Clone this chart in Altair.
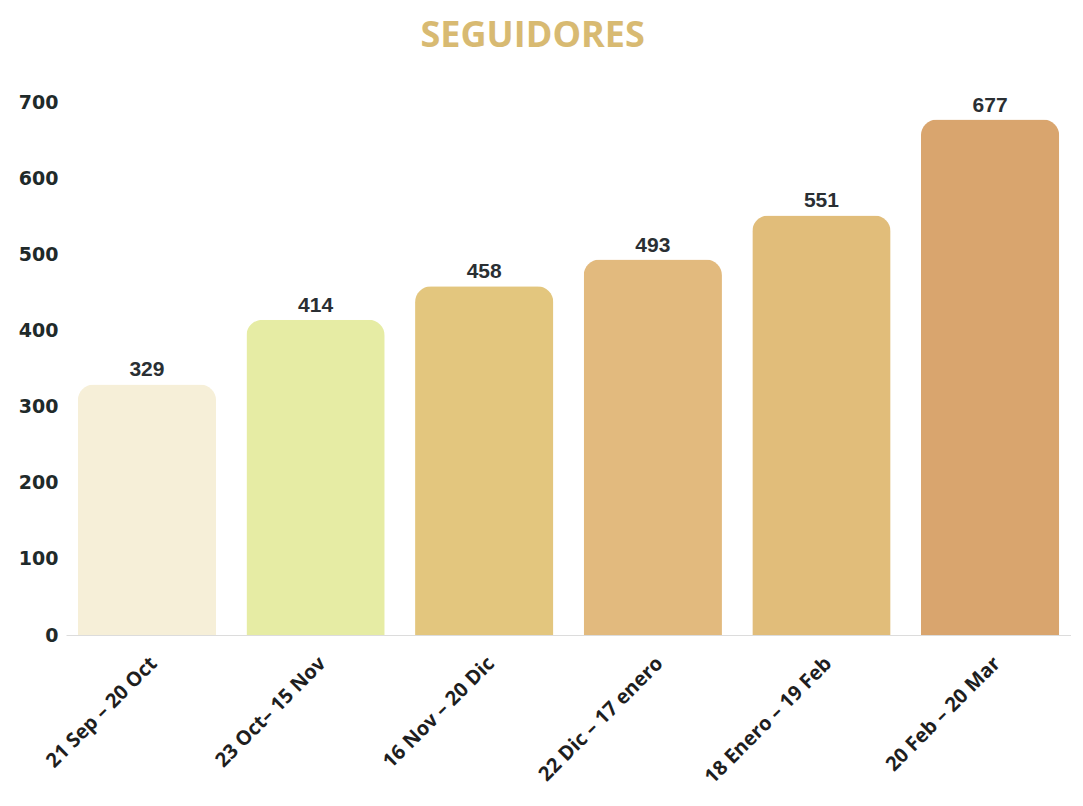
import altair as alt
import pandas as pd

periods = ["21 Sep – 20 Oct", "23 Oct– 15 Nov", "16 Nov – 20 Dic",
           "22 Dic – 17 enero", "18 Enero – 19 Feb", "20 Feb – 20 Mar"]
followers = [329, 414, 458, 493, 551, 677]
bar_colors = ["#f6efd8", "#e6eca4", "#e3c67e", "#e2ba7e", "#e1bd7a", "#d9a56e"]

df = pd.DataFrame({"periodo": periods, "seguidores": followers, "color": bar_colors})

x_enc = alt.X("periodo:N", sort=periods, title=None,
              scale=alt.Scale(paddingInner=0.18, paddingOuter=0.07),
              axis=alt.Axis(labelAngle=315, labelFont="Open Sans", labelFontWeight="bold",
                            labelFontSize=20, labelColor="#1e1e1e", labelPadding=18,
                            ticks=False, domain=True, domainColor="#dcdcdc",
                            labelOverlap=False, labelLimit=400))
y_enc = alt.Y("seguidores:Q", title=None,
              scale=alt.Scale(domain=[0, 700], nice=False),
              axis=alt.Axis(values=[0, 100, 200, 300, 400, 500, 600, 700], grid=False,
                            ticks=False, domain=False, labelFont="DejaVu Sans",
                            labelFontWeight="bold", labelFontSize=19, labelColor="#1f2a2a",
                            labelPadding=8))

bars = alt.Chart(df).mark_bar(cornerRadiusTopLeft=16, cornerRadiusTopRight=16).encode(
    x=x_enc, y=y_enc,
    color=alt.Color("color:N", scale=None),
)

labels = alt.Chart(df).mark_text(dy=-14, font="Liberation Sans", fontWeight="bold",
                                 fontSize=21, color="#2a2f33").encode(
    x=alt.X("periodo:N", sort=periods),
    y=alt.Y("seguidores:Q"),
    text=alt.Text("seguidores:Q"),
)

chart = (bars + labels).properties(
    width=1005, height=533,
    padding={"left": 10, "top": 10, "right": 0, "bottom": 0},
    title=alt.TitleParams("SEGUIDORES", font="Open Sans", fontWeight="bold", fontSize=36,
                          color="#d8ba72", anchor="middle", frame="bounds",
                          offset=38, dx=-12),
).configure_view(stroke=None)

chart.save("out.html", embed_options={"renderer": "svg", "actions": False})
